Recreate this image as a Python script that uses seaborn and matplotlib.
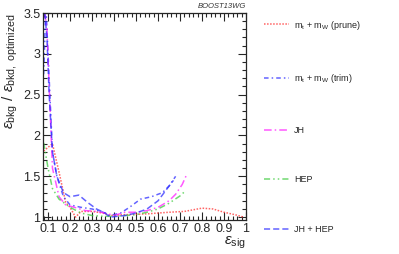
import matplotlib
matplotlib.use("Agg")
import matplotlib.pyplot as plt
import seaborn as sns
import pandas as pd
from matplotlib.ticker import MultipleLocator

sns.set_style("ticks")
plt.rcParams['font.family'] = ['Liberation Sans', 'DejaVu Sans']
plt.rcParams['mathtext.fontset'] = 'custom'
plt.rcParams['mathtext.rm'] = 'Liberation Sans'
plt.rcParams['mathtext.it'] = 'Liberation Sans:italic'

labels = [r"m$_{\rm t}$ + m$_{\rm W}$ (prune)", r"m$_{\rm t}$ + m$_{\rm W}$ (trim)", "JH", "HEP", "JH + HEP"]

prune_x = [0.08, 0.12, 0.15, 0.18, 0.2, 0.225, 0.25, 0.3, 0.35, 0.38, 0.45, 0.55, 0.65, 0.72, 0.8, 0.85, 0.9, 0.95, 0.99]
prune_y = [1.81, 1.9, 1.55, 1.18, 1.12, 1.0, 1.07, 1.07, 1.05, 1.02, 1.03, 1.04, 1.06, 1.07, 1.11, 1.1, 1.06, 1.03, 1.0]

trim_x = [0.08, 0.09, 0.1, 0.12, 0.14, 0.17, 0.2, 0.25, 0.3, 0.35, 0.38, 0.43, 0.47, 0.52, 0.57, 0.62, 0.65, 0.68]
trim_y = [2.75, 3.6, 3.0, 1.8, 1.5, 1.25, 1.15, 1.12, 1.1, 1.06, 1.02, 1.05, 1.12, 1.22, 1.25, 1.3, 1.38, 1.5]

jh_x = [0.085, 0.095, 0.105, 0.12, 0.15, 0.18, 0.22, 0.27, 0.32, 0.36, 0.4, 0.45, 0.5, 0.55, 0.6, 0.65, 0.68, 0.71, 0.73]
jh_y = [3.5, 3.3, 2.6, 1.6, 1.25, 1.15, 1.12, 1.08, 1.07, 1.05, 1.02, 1.06, 1.06, 1.08, 1.12, 1.2, 1.28, 1.4, 1.52]

hep_x = [0.08, 0.1, 0.12, 0.15, 0.2, 0.25, 0.3, 0.35, 0.4, 0.45, 0.5, 0.55, 0.6, 0.65, 0.7, 0.72]
hep_y = [1.91, 1.6, 1.35, 1.22, 1.12, 1.05, 1.02, 1.01, 1.01, 1.02, 1.03, 1.06, 1.1, 1.17, 1.26, 1.31]

jhhep_x = [0.085, 0.095, 0.105, 0.12, 0.14, 0.17, 0.2, 0.24, 0.28, 0.32, 0.36, 0.38, 0.45, 0.5, 0.55, 0.6, 0.65, 0.67]
jhhep_y = [3.5, 3.2, 2.5, 1.8, 1.5, 1.3, 1.25, 1.27, 1.18, 1.1, 1.05, 1.0, 1.02, 1.05, 1.1, 1.2, 1.38, 1.45]

series = [(prune_x, prune_y), (trim_x, trim_y), (jh_x, jh_y), (hep_x, hep_y), (jhhep_x, jhhep_y)]
colors = ["#ff3030", "#3030ff", "#ff20ff", "#40cc40", "#3030ff"]
styles = [(0, (1, 1)), (0, (3, 2, 1, 2)), (0, (5, 2, 1, 2)), (0, (4, 2, 1, 2, 1, 2)), (0, (4, 2))]

fig = plt.figure(figsize=(3.99, 2.54), dpi=100)
ax = fig.add_axes([43/399, 1 - 220/254, (246-43)/399, (220-13)/254])

for (xs, ys), lab, c, ls in zip(series, labels, colors, styles):
    df = pd.DataFrame({"x": xs, "y": ys})
    sns.lineplot(data=df, x="x", y="y", ax=ax, sort=False, color=c, linestyle=ls,
                 linewidth=1.1, alpha=0.75, label=lab, legend=False)

ax.set_xlim(0.077, 1.0)
ax.set_ylim(0.965, 3.5)
ax.xaxis.set_minor_locator(MultipleLocator(0.02))
ax.yaxis.set_minor_locator(MultipleLocator(0.1))
ax.set_xticks([0.1, 0.2, 0.3, 0.4, 0.5, 0.6, 0.7, 0.8, 0.9, 1.0])
ax.set_xticklabels(["0.1", "0.2", "0.3", "0.4", "0.5", "0.6", "0.7", "0.8", "0.9", "1"])
ax.set_yticks([1, 1.5, 2, 2.5, 3, 3.5])
ax.set_yticklabels(["1", "1.5", "2", "2.5", "3", "3.5"])
ax.tick_params(which='both', direction='in', top=True, right=True, labelsize=9, width=0.8, pad=2)
ax.tick_params(which='major', length=6)
ax.tick_params(which='minor', length=3)
for s in ax.spines.values():
    s.set_linewidth(0.9)
ax.set_xlabel(r"$\varepsilon_{\rm sig}$", fontsize=11, loc='right', labelpad=0)
ax.set_ylabel(r"$\varepsilon_{\rm bkg}$ / $\varepsilon_{\rm bkd,\ optimized}$", fontsize=11, loc='top', labelpad=2)

fig.text(246/399, 1 - 6/254, "BOOST13WG", ha='right', va='center', fontsize=5.5, style='italic', color='#333333')

handles, labs = ax.get_legend_handles_labels()
fig.legend(handles, labs, loc='upper left', bbox_to_anchor=(264/399, 1 - 18.5/254), frameon=False,
           fontsize=6.5, labelspacing=4.5, handlelength=2.77, handletextpad=0.55, borderaxespad=0, borderpad=0)

fig.savefig("out.png", dpi=100)
